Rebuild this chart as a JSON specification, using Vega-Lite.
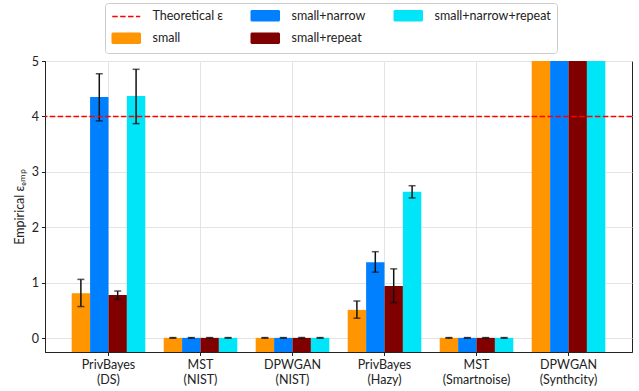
{
  "$schema": "https://vega.github.io/schema/vega-lite/v6.json",
  "width": 587,
  "height": 291,
  "autosize": {"type": "none"},
  "padding": {"left": 45, "top": 61, "right": 7, "bottom": 39},
  "config": {
    "font": "Lato",
    "view": {"stroke": "#222", "strokeWidth": 1},
    "axis": {
      "labelFont": "Lato",
      "labelFontSize": 12.5,
      "labelColor": "#222",
      "titleFont": "Lato",
      "titleFontSize": 12.5,
      "titleFontWeight": "normal",
      "titleColor": "#222",
      "domainColor": "#222",
      "tickColor": "#222",
      "tickSize": 3.5,
      "gridColor": "#e3e3e3",
      "gridWidth": 1
    }
  },
  "data": {
    "values": [
      {"method": "PrivBayes (DS)", "series": "small", "value": 0.81, "lo": 0.57, "hi": 1.06},
      {"method": "PrivBayes (DS)", "series": "small+narrow", "value": 4.35, "lo": 3.92, "hi": 4.77},
      {"method": "PrivBayes (DS)", "series": "small+repeat", "value": 0.78, "lo": 0.70, "hi": 0.85},
      {"method": "PrivBayes (DS)", "series": "small+narrow+repeat", "value": 4.37, "lo": 3.87, "hi": 4.85},
      {"method": "MST (NIST)", "series": "small", "value": 0.005, "lo": 0.0, "hi": 0.01},
      {"method": "MST (NIST)", "series": "small+narrow", "value": 0.005, "lo": 0.0, "hi": 0.01},
      {"method": "MST (NIST)", "series": "small+repeat", "value": 0.005, "lo": 0.0, "hi": 0.01},
      {"method": "MST (NIST)", "series": "small+narrow+repeat", "value": 0.005, "lo": 0.0, "hi": 0.01},
      {"method": "DPWGAN (NIST)", "series": "small", "value": 0.005, "lo": 0.0, "hi": 0.01},
      {"method": "DPWGAN (NIST)", "series": "small+narrow", "value": 0.005, "lo": 0.0, "hi": 0.01},
      {"method": "DPWGAN (NIST)", "series": "small+repeat", "value": 0.005, "lo": 0.0, "hi": 0.01},
      {"method": "DPWGAN (NIST)", "series": "small+narrow+repeat", "value": 0.005, "lo": 0.0, "hi": 0.01},
      {"method": "PrivBayes (Hazy)", "series": "small", "value": 0.51, "lo": 0.36, "hi": 0.67},
      {"method": "PrivBayes (Hazy)", "series": "small+narrow", "value": 1.37, "lo": 1.19, "hi": 1.56},
      {"method": "PrivBayes (Hazy)", "series": "small+repeat", "value": 0.94, "lo": 0.64, "hi": 1.25},
      {"method": "PrivBayes (Hazy)", "series": "small+narrow+repeat", "value": 2.64, "lo": 2.53, "hi": 2.75},
      {"method": "MST (Smartnoise)", "series": "small", "value": 0.005, "lo": 0.0, "hi": 0.01},
      {"method": "MST (Smartnoise)", "series": "small+narrow", "value": 0.005, "lo": 0.0, "hi": 0.01},
      {"method": "MST (Smartnoise)", "series": "small+repeat", "value": 0.005, "lo": 0.0, "hi": 0.01},
      {"method": "MST (Smartnoise)", "series": "small+narrow+repeat", "value": 0.005, "lo": 0.0, "hi": 0.01},
      {"method": "DPWGAN (Synthcity)", "series": "small", "value": 5, "lo": null, "hi": null},
      {"method": "DPWGAN (Synthcity)", "series": "small+narrow", "value": 5, "lo": null, "hi": null},
      {"method": "DPWGAN (Synthcity)", "series": "small+repeat", "value": 5, "lo": null, "hi": null},
      {"method": "DPWGAN (Synthcity)", "series": "small+narrow+repeat", "value": 5, "lo": null, "hi": null}
    ]
  },
  "encoding": {
    "x": {
      "field": "method",
      "type": "nominal",
      "sort": null,
      "scale": {"paddingInner": 0.2, "paddingOuter": 0.29},
      "axis": {
        "title": null,
        "labelAngle": 0,
        "labelPadding": 3,
        "labelLineHeight": 15,
        "labelExpr": "split(datum.value, ' ')",
        "grid": true,
        "bandPosition": 0.5
      }
    },
    "xOffset": {
      "field": "series",
      "type": "nominal",
      "scale": {
        "domain": ["small", "small+narrow", "small+repeat", "small+narrow+repeat"],
        "paddingInner": 0,
        "paddingOuter": 0
      }
    }
  },
  "layer": [
    {
      "mark": {"type": "bar", "clip": true},
      "encoding": {
        "y": {
          "field": "value",
          "type": "quantitative",
          "scale": {"domain": [-0.25, 5], "nice": false, "zero": false},
          "axis": {
            "title": "Empirical ε\u2091\u2098\u209a",
            "values": [0, 1, 2, 3, 4, 5],
            "format": "d",
            "grid": true,
            "titlePadding": 5,
            "labelPadding": 3
          }
        },
        "y2": {"datum": -0.25},
        "color": {
          "field": "series",
          "type": "nominal",
          "scale": {
            "domain": ["Theoretical ε", "small+narrow", "small+narrow+repeat", "small", "small+repeat"],
            "range": ["#ff0000", "#0080ff", "#00e5f7", "#ff9500", "#800000"]
          },
          "legend": {
            "title": null,
            "orient": "none",
            "legendX": 60,
            "legendY": -58,
            "direction": "horizontal",
            "columns": 3,
            "symbolSize": 100,
            "labelFont": "Lato",
            "labelFontSize": 12.5,
            "labelColor": "#222",
            "labelOffset": 29,
            "labelLimit": 220,
            "columnPadding": 25,
            "rowPadding": 6,
            "padding": 6,
            "strokeColor": "#cccccc",
            "fillColor": "white",
            "cornerRadius": 3,
            "encode": {
              "symbols": {
                "update": {
                  "shape": {"signal": "datum.value === 'Theoretical ε' ? 'M-1,0H4.6' : 'M-1,-1H4.6V1H-1Z'"},
                  "fill": {"signal": "datum.value === 'Theoretical ε' ? 'transparent' : scale('color', datum.value)"},
                  "stroke": {"signal": "datum.value === 'Theoretical ε' ? '#ff0000' : 'transparent'"},
                  "strokeDash": {"signal": "datum.value === 'Theoretical ε' ? [5.5, 2.4] : [1, 0]"},
                  "strokeWidth": {"value": 1.5},
                  "opacity": {"value": 1},
                  "fillOpacity": {"value": 1}
                }
              }
            }
          }
        }
      }
    },
    {
      "transform": [{"filter": "isValid(datum.lo)"}],
      "mark": {"type": "rule", "color": "#111", "strokeWidth": 1.5},
      "encoding": {
        "y": {"field": "lo", "type": "quantitative"},
        "y2": {"field": "hi"}
      }
    },
    {
      "transform": [{"filter": "isValid(datum.hi)"}],
      "mark": {"type": "tick", "color": "#111", "size": 7, "thickness": 1.5},
      "encoding": {
        "y": {"field": "hi", "type": "quantitative"}
      }
    },
    {
      "transform": [{"filter": "isValid(datum.lo)"}],
      "mark": {"type": "tick", "color": "#111", "size": 7, "thickness": 1.5},
      "encoding": {
        "y": {"field": "lo", "type": "quantitative"}
      }
    },
    {
      "data": {"values": [{"label": "Theoretical ε", "eps": 4}]},
      "mark": {"type": "rule", "strokeDash": [5.5, 2.4], "strokeWidth": 1.5},
      "encoding": {
        "x": null,
        "xOffset": null,
        "y": {"field": "eps", "type": "quantitative"},
        "color": {"field": "label", "type": "nominal"}
      }
    }
  ]
}
